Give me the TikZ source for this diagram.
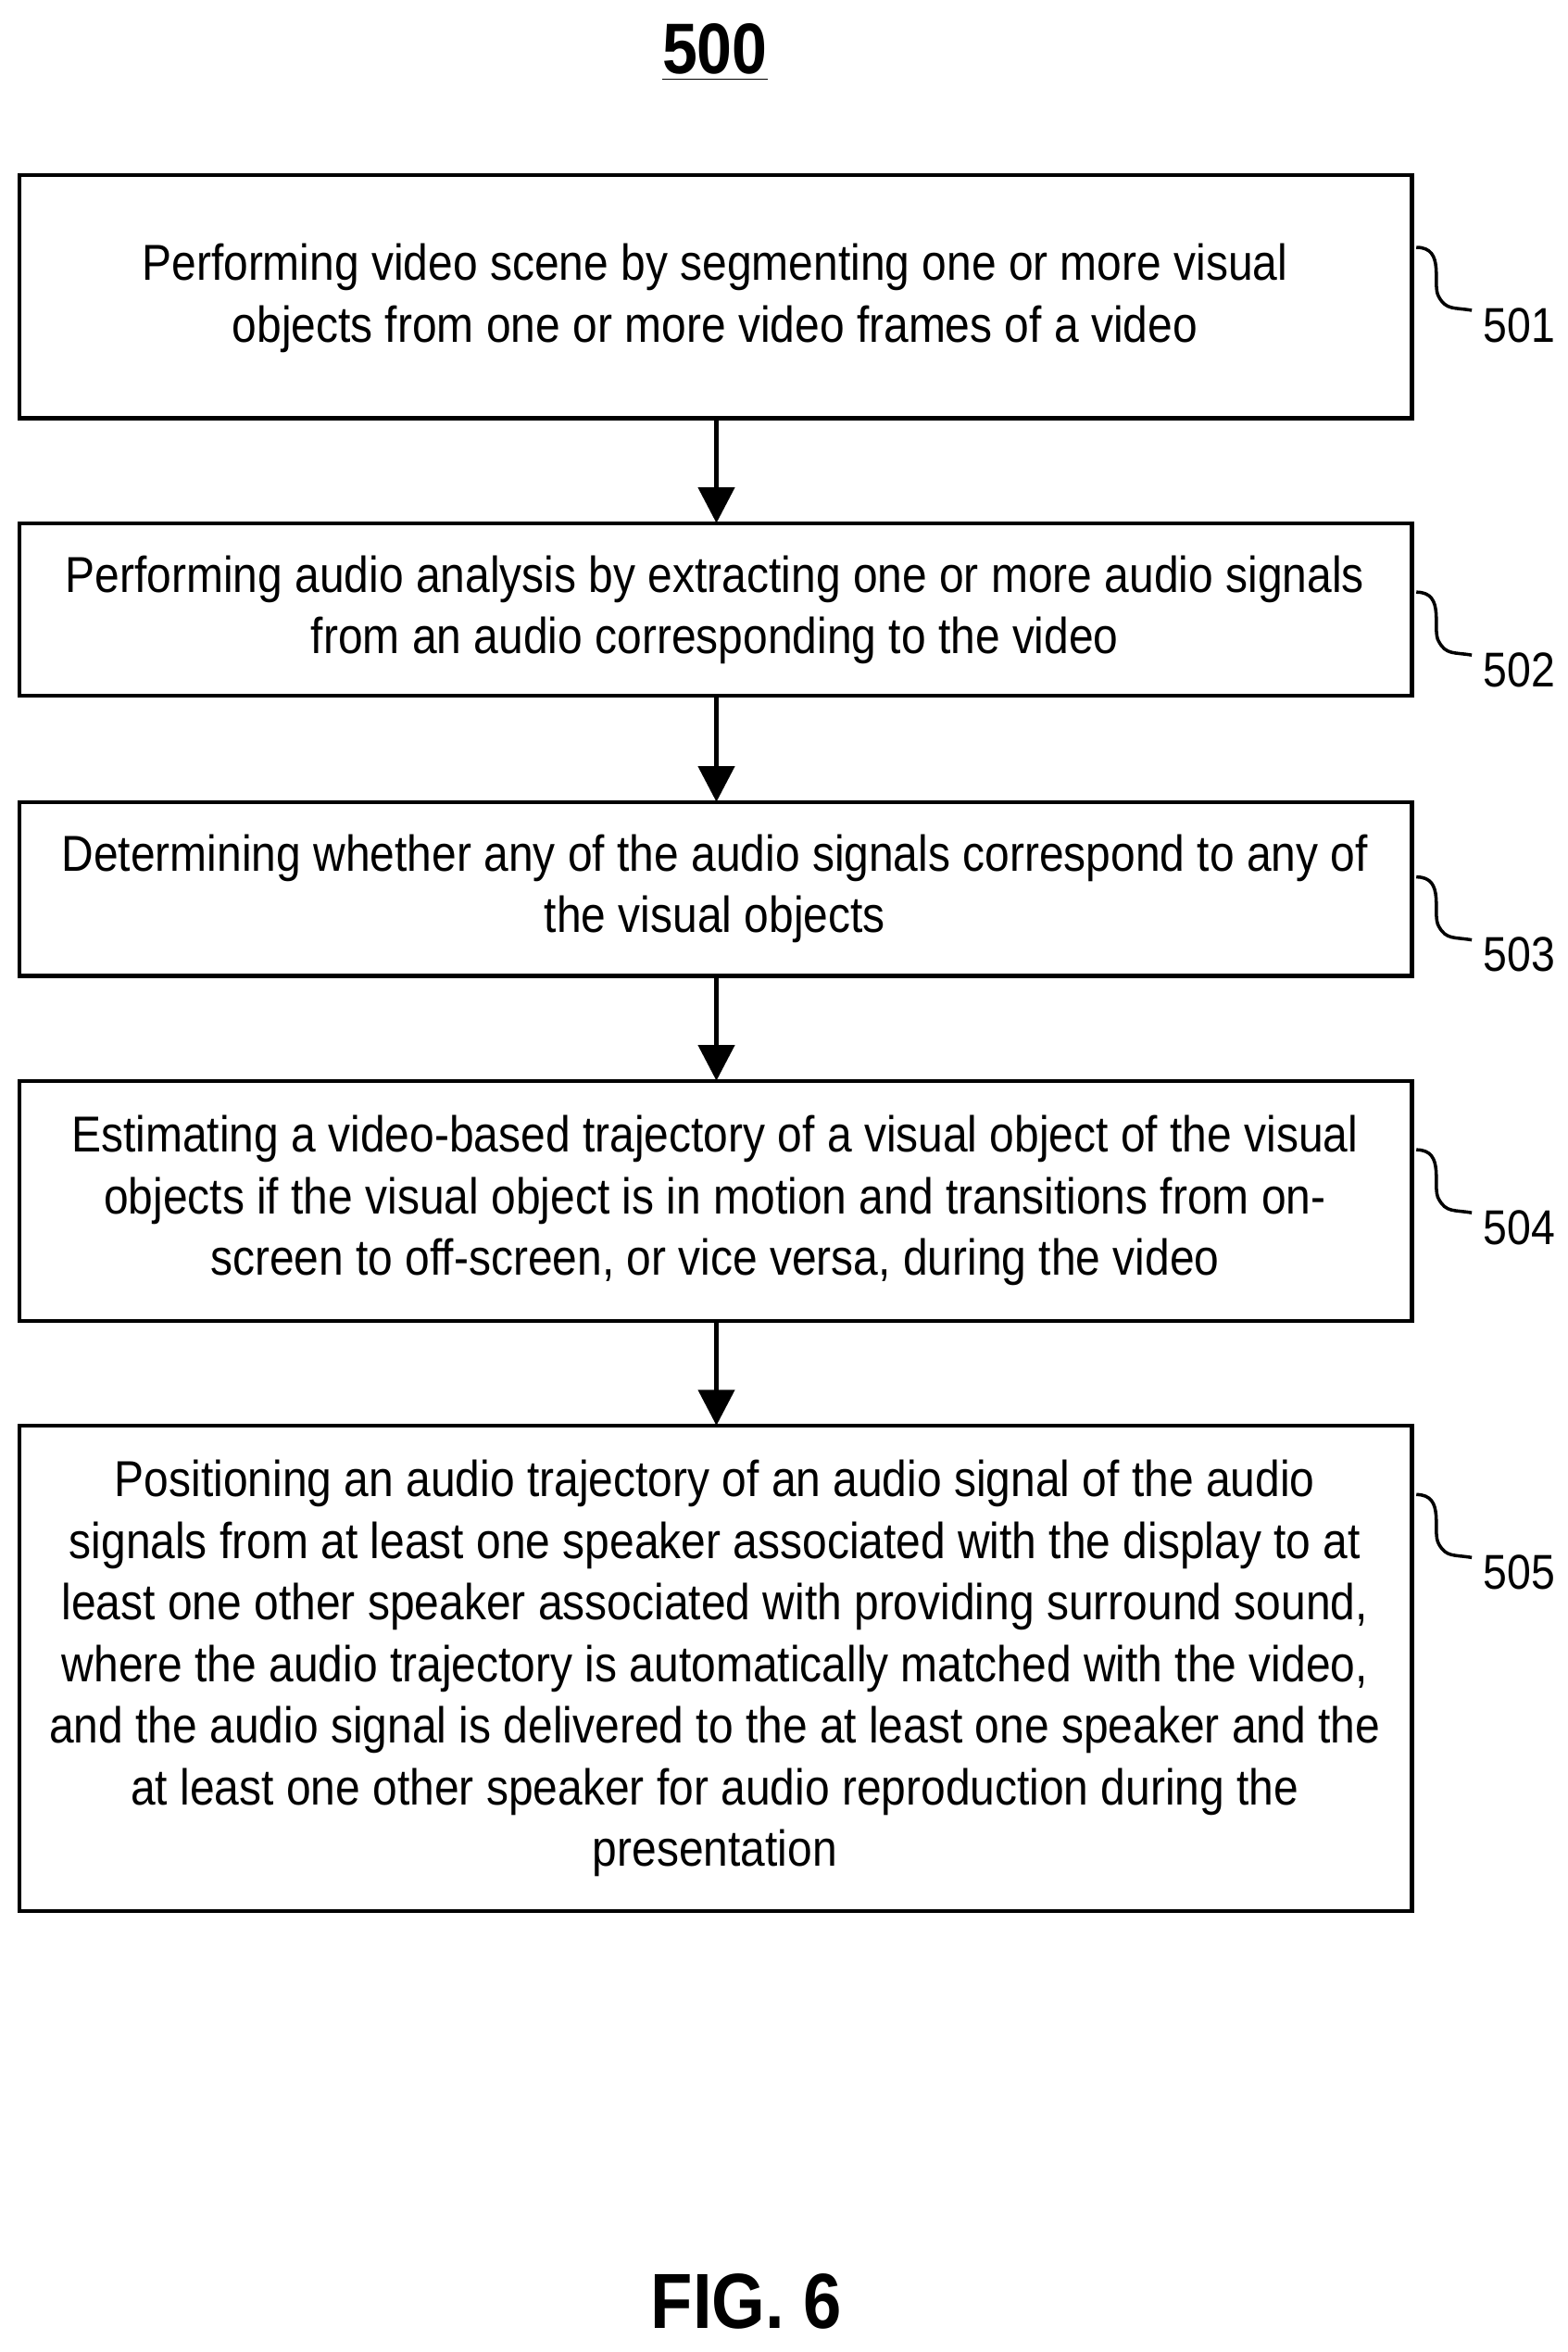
\documentclass[tikz,border=0pt]{standalone}
\usepackage{fontspec}
\setmainfont[FakeStretch=0.88]{Liberation Sans}
\usetikzlibrary{arrows.meta}
\begin{document}
\begin{tikzpicture}[x=0.01618cm,y=-0.01618cm,
  box/.style={draw,line width=1.2pt},
  txt/.style={align=center,font=\fontsize{15.5}{18.9}\selectfont},
  flow/.style={-{Triangle[length=11pt,width=11pt]},line width=1.6pt},
  tag/.style={font=\fontsize{15}{18}\selectfont,anchor=west},
  hook/.style={line width=1pt}]
\useasboundingbox (0,0) rectangle (1046,1569);
\node[font=\bfseries\fontsize{22}{26}\selectfont] (title) at (477,35) {\underline{500}};
\draw[box] (13,117) rectangle (942,279);
\draw[box] (13,349) rectangle (942,464);
\draw[box] (13,535) rectangle (942,651);
\draw[box] (13,721) rectangle (942,881);
\draw[box] (13,951) rectangle (942,1275);
\node[txt] (s1) at (477,199) {Performing video scene by segmenting one or more visual\\objects from one or more video frames of a video};
\node[txt] (s2) at (477,407) {Performing audio analysis by extracting one or more audio signals\\from an audio corresponding to the video};
\node[txt] (s3) at (477,593) {Determining whether any of the audio signals correspond to any of\\the visual objects};
\node[txt] (s4) at (477,801) {Estimating a video-based trajectory of a visual object of the visual\\objects if the visual object is in motion and transitions from on-\\screen to off-screen, or vice versa, during the video};
\node[txt] (s5) at (477,1113) {Positioning an audio trajectory of an audio signal of the audio\\signals from at least one speaker associated with the display to at\\least one other speaker associated with providing surround sound,\\where the audio trajectory is automatically matched with the video,\\and the audio signal is delivered to the at least one speaker and the\\at least one other speaker for audio reproduction during the\\presentation};
\coordinate (a1) at (478,279); \coordinate (b1) at (478,349);
\coordinate (a2) at (478,464); \coordinate (b2) at (478,535);
\coordinate (a3) at (478,651); \coordinate (b3) at (478,721);
\coordinate (a4) at (478,881); \coordinate (b4) at (478,951);
\draw[flow] (a1) -- (b1);
\draw[flow] (a2) -- (b2);
\draw[flow] (a3) -- (b3);
\draw[flow] (a4) -- (b4);
\foreach \n/\y in {501/165,502/395,503/585,504/767,505/997}{
  \draw[hook] (945,\y) .. controls (965,\y) and (955,\y+25) .. (960,\y+33) .. controls (965,\y+42) and (970,\y+40) .. (982,\y+42);
  \node[tag] (l\n) at (982,\y+52) {\n};
}
\node[font=\bfseries\fontsize{24}{28}\selectfont] (fig) at (498,1535) {FIG. 6};
\end{tikzpicture}
\end{document}
